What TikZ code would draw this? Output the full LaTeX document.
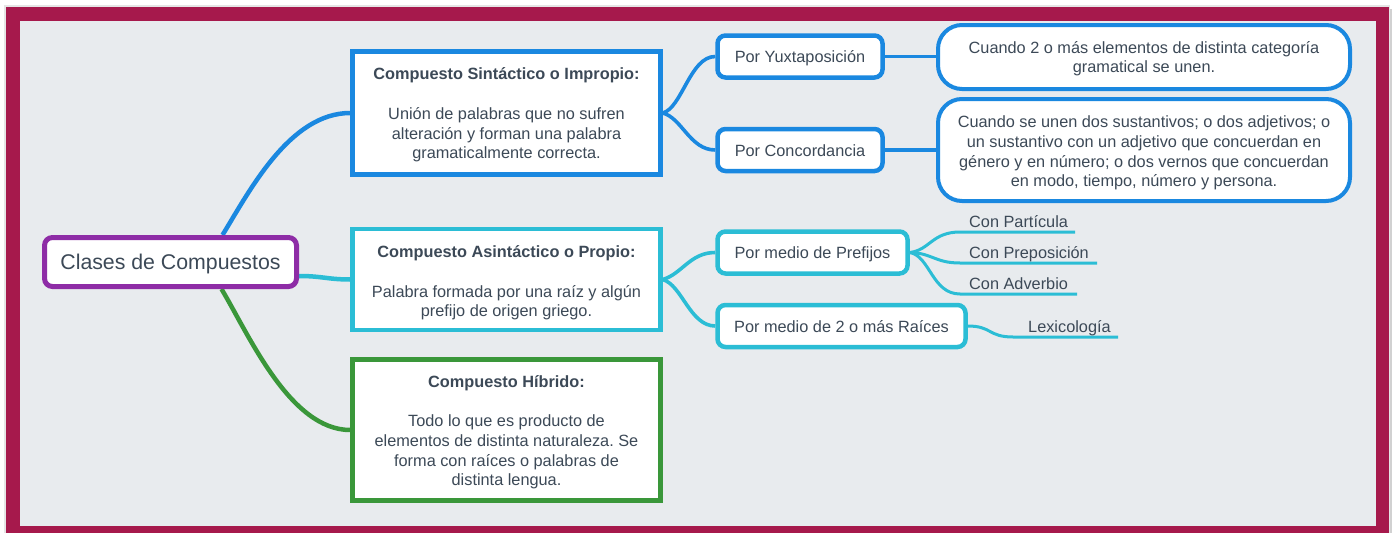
\documentclass[tikz,border=0pt]{standalone}
\usepackage{fontspec}
\setmainfont{Liberation Sans}
\usetikzlibrary{calc}
\definecolor{crim}{HTML}{A6194C}
\definecolor{bgc}{HTML}{E8EBEE}
\definecolor{cblue}{HTML}{1A88E0}
\definecolor{ccyan}{HTML}{2BBDD5}
\definecolor{cgreen}{HTML}{3A973A}
\definecolor{cpurple}{HTML}{8E2CA6}
\definecolor{txtc}{HTML}{3C4957}
\pgfdeclarelayer{bg}
\pgfdeclarelayer{conn}
\pgfsetlayers{bg,conn,main}
\frenchspacing
\begin{document}
\begin{tikzpicture}[x=1pt,y=-1pt,
  txt/.style={text=txtc, font=\fontsize{16.3}{19.7}\selectfont, align=center, inner sep=0pt},
  mainbox/.style={txt, draw, fill=white, line width=4.5pt, text depth=0pt},
  subbox/.style={txt, draw, fill=white, line width=4.5pt, rounded corners=8pt, minimum height=42pt, text height=12pt, text depth=0pt},
  bigbox/.style={txt, draw, fill=white, line width=4pt, rounded corners=24pt, minimum width=412pt, text depth=0pt},
  leaf/.style={txt, anchor=base west},
  c1/.style={line width=4.5pt},
  c2/.style={line width=3.6pt},
  c3/.style={line width=3pt}
]
\begin{pgfonlayer}{bg}
\useasboundingbox (0,0) rectangle (1392,533);
\fill[white] (0,0) rectangle (1392,533);
\fill[black!18] (1389,9) rectangle (1392,533);
\fill[black!10] (4,5) rectangle (1390,533);
\fill[crim] (6,7) rectangle (1389,533);
\fill[bgc] (20,21) rectangle (1376,526);
\end{pgfonlayer}

% nodes
\node[txt, draw=cpurple, fill=white, line width=5pt, rounded corners=8pt,
      minimum width=252pt, minimum height=49pt, font=\fontsize{21.3}{24}\selectfont,
      text height=15pt, text depth=0pt]
      (root) at (170.5,262) {Clases de Compuestos};

\node[mainbox, draw=cblue, minimum width=308pt, minimum height=123pt, text height=91.5pt] (b1) at (506.5,113)
  {\textbf{Compuesto Sintáctico o Impropio:}\\[19.7pt]
   Unión de palabras que no sufren\\ alteración y forman una palabra\\ gramaticalmente correcta.};
\node[mainbox, draw=ccyan, minimum width=308pt, minimum height=101pt, text height=74.5pt] (b2) at (506.5,279.5)
  {\textbf{Compuesto Asintáctico o Propio:}\\[19.7pt]
   Palabra formada por una raíz y algún\\ prefijo de origen griego.};
\node[mainbox, draw=cgreen, minimum width=308pt, minimum height=141pt, text height=111.5pt] (b3) at (506.5,430)
  {\textbf{Compuesto Híbrido:}\\[19.7pt]
   Todo lo que es producto de\\ elementos de distinta naturaleza. Se\\ forma con raíces o palabras de\\ distinta lengua.};

\node[subbox, draw=cblue, minimum width=165pt] (yux) at (800,56.5) {Por Yuxtaposición};
\node[subbox, draw=cblue, minimum width=165pt] (con) at (800,150) {Por Concordancia};
\node[subbox, draw=ccyan, minimum width=190pt] (pre) at (812.5,252.5) {Por medio de Prefijos};
\node[subbox, draw=ccyan, minimum width=248pt] (rai) at (841.5,326) {Por medio de 2 o más Raíces};

\node[bigbox, draw=cblue, minimum height=64pt, text height=31.5pt] (big1) at (1144,57)
  {Cuando 2 o más elementos de distinta categoría\\ gramatical se unen.};
\node[bigbox, draw=cblue, minimum height=102pt, text height=73.5pt] (big2) at (1144,150)
  {Cuando se unen dos sustantivos; o dos adjetivos; o\\ un sustantivo con un adjetivo que concuerdan en\\ género y en número; o dos vernos que concuerdan\\ en modo, tiempo, número y persona.};

\coordinate (u1s) at (960,232); \coordinate (u1e) at (1075,232);
\coordinate (u2s) at (960,263); \coordinate (u2e) at (1097,263);
\coordinate (u3s) at (960,294); \coordinate (u3e) at (1077,294);
\coordinate (u4s) at (1013,337); \coordinate (u4e) at (1118,337);
\node[leaf] (l1) at (969,227) {Con Partícula};
\node[leaf] (l2) at (969,258) {Con Preposición};
\node[leaf] (l3) at (969,289) {Con Adverbio};
\node[leaf] (l4) at (1028,332) {Lexicología};

% connectors
\begin{pgfonlayer}{conn}
\draw[cblue, c1] ([xshift=52pt]root.north) .. controls (250,190) and (290,113) .. (b1.west);
\draw[ccyan, c1] ([yshift=-14pt]root.east) .. controls (322,276) and (328,279.5) .. (b2.west);
\draw[cgreen, c1] ([xshift=51pt]root.south) .. controls (249,335) and (290,430) .. (b3.west);

\draw[cblue, c2] (b1.east) .. controls (682,108) and (690,56.5) .. (yux.west);
\draw[cblue, c2] (b1.east) .. controls (682,118) and (690,150) .. (con.west);
\draw[cblue, c2] (yux.east) -- (yux.east -| big1.west);
\draw[cblue, c2] (con.east) -- (big2.west);

\draw[ccyan, c2] (b2.east) .. controls (682,274) and (690,252.5) .. (pre.west);
\draw[ccyan, c2] (b2.east) .. controls (682,285) and (690,326) .. (rai.west);

\draw[ccyan, c3] (pre.east) .. controls (930,250) and (932,232) .. (u1s) -- (u1e);
\draw[ccyan, c3] (pre.east) .. controls (932,253) and (935,263) .. (u2s) -- (u2e);
\draw[ccyan, c3] (pre.east) .. controls (930,256) and (932,294) .. (u3s) -- (u3e);
\draw[ccyan, c3] (rai.east) .. controls (992,326) and (988,337) .. (u4s) -- (u4e);
\end{pgfonlayer}
\end{tikzpicture}
\end{document}
